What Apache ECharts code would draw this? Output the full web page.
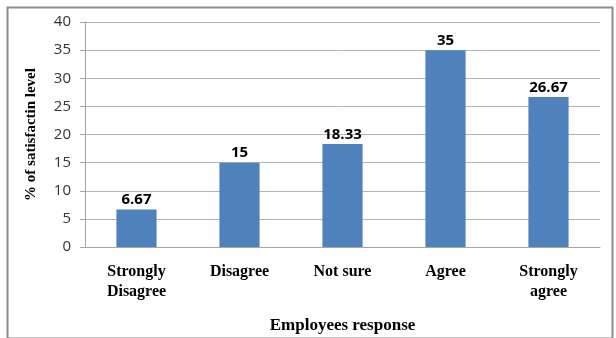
<!DOCTYPE html>
<html><head><meta charset="utf-8">
<script src="https://cdn.jsdelivr.net/npm/echarts@6/dist/echarts.min.js"></script>
<style>html,body{margin:0;padding:0;background:#fff}#c{width:616px;height:338px}</style>
</head><body><div id="c"></div>
<script>
const categories = ["Strongly\nDisagree", "Disagree", "Not sure", "Agree", "Strongly\nagree"];
const values = [6.67, 15, 18.33, 35, 26.67];
const valueLabels = ["6.67", "15", "18.33", "35", "26.67"];
const yTicks = [0, 5, 10, 15, 20, 25, 30, 35, 40];

const chart = echarts.init(document.getElementById('c'));
chart.setOption({
  animation: false,
  graphic: [{
    type: 'rect', left: 5, top: 5, shape: {x: 0, y: 0, width: 605, height: 331},
    style: {fill: 'none', stroke: '#8c8c8c', lineWidth: 2}, silent: true
  }],
  grid: {left: 85, top: 22, right: 16, bottom: 91, containLabel: false, outerBoundsMode: 'none'},
  xAxis: {
    type: 'category', data: categories,
    name: 'Employees response', nameLocation: 'middle', nameGap: 70,
    nameTextStyle: {fontFamily: 'Liberation Serif', fontWeight: 'bold', fontSize: 17, color: '#000'},
    axisLine: {lineStyle: {color: '#a6a6a6'}},
    axisTick: {show: false},
    axisLabel: {fontFamily: 'Liberation Serif', fontWeight: 'bold', fontSize: 16, color: '#000', margin: 15, lineHeight: 20}
  },
  yAxis: {
    type: 'value', min: yTicks[0], max: yTicks[yTicks.length - 1], interval: 5,
    name: '% of satisfactin level', nameLocation: 'middle', nameGap: 46,
    nameTextStyle: {fontFamily: 'Liberation Serif', fontWeight: 'bold', fontSize: 15, color: '#000'},
    axisLine: {show: true, lineStyle: {color: '#a6a6a6'}},
    axisTick: {show: true, length: 5, lineStyle: {color: '#a6a6a6'}},
    axisLabel: {fontFamily: 'Open Sans', fontSize: 15, color: '#333', margin: 14},
    splitLine: {lineStyle: {color: '#b3b3b3'}}
  },
  series: [{
    type: 'bar', data: values, barWidth: '39%',
    itemStyle: {color: '#4f81bd'},
    label: {show: true, position: 'top', distance: 2,
      formatter: p => valueLabels[p.dataIndex],
      fontFamily: 'Open Sans', fontWeight: 'bold', fontSize: 15, color: '#000'}
  }]
});
</script></body></html>
